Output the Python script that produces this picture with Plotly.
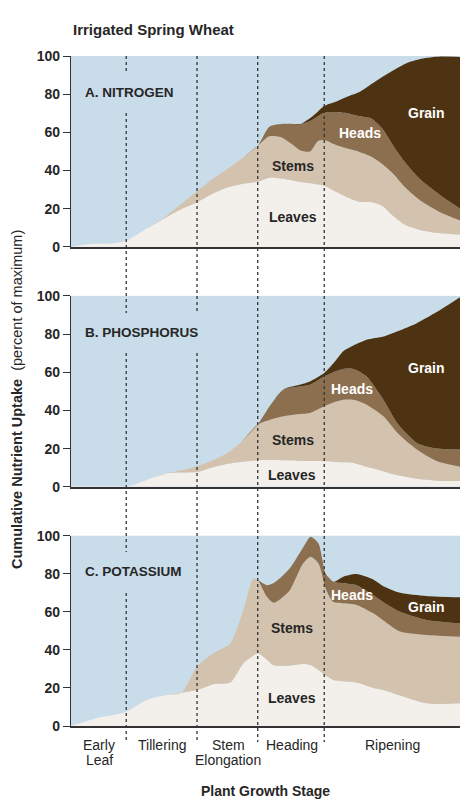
import plotly.graph_objects as go

# colours
BLUE = "#c9dcea"
C_LEAVES = "#f3f0eb"
C_STEMS = "#d3c3ae"
C_HEADS = "#8c6f4e"
C_GRAIN = "#4e3313"
INK = "#262626"

# --- data: cumulative tops of each layer (percent of maximum) ---
# A. Nitrogen
n_x = [0, 5, 10, 14.2, 19, 24, 28, 32.4, 36, 40, 44, 48, 51, 54, 57, 59, 61.5, 63.5, 65.1,
       68, 71, 74, 77, 80, 83, 86, 90, 95, 100]
n_leaves = [0, 1.6, 1.8, 3.3, 9, 15, 19.5, 23.4, 27.5, 31, 33, 34.2, 36.3, 35.8, 34.8, 34, 33.3,
            32.7, 32.1, 29, 26, 23.7, 23.5, 21.5, 16, 11.5, 8.8, 7.2, 6.5]
n_stems = [0, 1.6, 1.8, 3.3, 9, 15.5, 22, 29, 35, 40.5, 46.5, 53, 58, 57.5, 53.5, 50.5, 50,
           55.5, 56, 53.5, 51.5, 49.9, 47.5, 43.5, 38, 31, 24, 18, 13.8]
n_heads = [0, 1.6, 1.8, 3.3, 9, 15.5, 22, 29, 35, 40.5, 46.5, 53, 63, 64.4, 64.4, 64.4, 66,
           68.5, 70.3, 70.5, 70, 68.5, 67.5, 62, 52.5, 44, 35, 27, 20.2]
n_grain = [0, 1.6, 1.8, 3.3, 9, 15.5, 22, 29, 35, 40.5, 46.5, 53, 63, 64.4, 64.4, 64.4, 67.5,
           71, 73.8, 76, 78.7, 81, 85, 89, 92.7, 96, 98.5, 99.7, 99.5]

# B. Phosphorus
p_x = [0, 14.2, 20, 24.6, 28, 32.4, 36, 40, 43.5, 48, 51, 54.6, 58, 61.4, 65.1, 68, 70, 72.6,
       76, 80.3, 84, 88.9, 94, 100]
p_leaves = [0, 0, 4, 7, 7.5, 7.7, 10, 12, 13, 13.9, 14, 13.9, 13.7, 13.5, 13.4, 13, 12.8, 12.5,
            10.5, 8.2, 6, 4.2, 3.2, 3]
p_stems = [0, 0, 4, 7, 8.5, 10.8, 13.5, 17.5, 23, 32.6, 35, 36.9, 38, 38.7, 42.2, 44.5, 45.6,
           45.6, 43, 36.9, 28, 19.5, 13.5, 10.5]
p_heads = [0, 0, 4, 7, 8.5, 10.8, 13.5, 17.5, 23, 32.6, 42, 51, 52.3, 53.5, 57.8, 60.5, 61.7,
           61.7, 57.8, 45.6, 33, 23, 20, 19.5]
p_grain = [0, 0, 4, 7, 8.5, 10.8, 13.5, 17.5, 23, 32.6, 42, 51, 53, 55.2, 59.6, 66, 71, 74,
           77, 78.7, 81.5, 85.7, 91.5, 99.3]

# C. Potassium
k_x = [0, 4, 7.5, 10.9, 14.2, 19.5, 24.6, 28.4, 32.4, 36.6, 40.9, 44.3, 46.9, 48, 50.3, 52,
       53.7, 56.3, 59.7, 61.6, 63.6, 65.5, 67.4, 70, 73.4, 77.7, 80.3, 84.6, 91.4, 100]
k_leaves = [0, 2.5, 4.6, 5.8, 7.5, 13.7, 16.3, 17.5, 18.9, 22, 22.8, 32.9, 37, 38.2, 35, 32,
            31.5, 31.8, 32.6, 32, 29.4, 26.5, 24.2, 23.5, 22.8, 20, 18.9, 16, 11.9, 11.9]
k_stems = [0, 2.5, 4.6, 5.8, 7.5, 13.7, 16.3, 17.5, 31.2, 38.2, 43.4, 61, 77.6, 76.7, 68, 64.8,
           66.5, 71.5, 85.5, 89, 85.5, 72, 65.3, 64.5, 63.6, 59.2, 55.5, 49.6, 47.8, 46.9]
k_heads = [0, 2.5, 4.6, 5.8, 7.5, 13.7, 16.3, 17.5, 31.2, 38.2, 43.4, 61, 77.6, 76.7, 74, 75,
           77.6, 83, 94, 99.5, 96, 80, 75.8, 75, 74, 68.8, 65, 60, 55.7, 53.9]
k_grain = [0, 2.5, 4.6, 5.8, 7.5, 13.7, 16.3, 17.5, 31.2, 38.2, 43.4, 61, 77.6, 76.7, 74, 75,
           77.6, 83, 94, 99.5, 96, 80, 75.8, 78.5, 79.9, 77, 73.5, 70, 68.3, 67.6]

panels = [
    ("A. NITROGEN", n_x, [n_leaves, n_stems, n_heads, n_grain]),
    ("B. PHOSPHORUS", p_x, [p_leaves, p_stems, p_heads, p_grain]),
    ("C. POTASSIUM", k_x, [k_leaves, k_stems, k_heads, k_grain]),
]
layer_names = ["Leaves", "Stems", "Heads", "Grain"]
layer_colors = [C_LEAVES, C_STEMS, C_HEADS, C_GRAIN]

# label positions (x, y in data units) per panel: Leaves, Stems, Heads, Grain
label_pos = [
    [(57.1, 15.7), (57.1, 42.4), (74.3, 59.7), (91.3, 70.2)],
    [(56.8, 6.3), (57.1, 24.6), (72.2, 51.3), (91.3, 62.3)],
    [(56.8, 14.7), (56.8, 51.6), (72.2, 68.9), (91.3, 62.6)],
]
label_colors = [INK, INK, "white", "white"]

stage_bounds = [14.2, 32.4, 48, 65.1]
stage_line1 = ["Early", "Tillering", "Stem", "Heading", "Ripening"]
stage_line2 = ["Leaf", "", "Elongation", "", ""]
stage_centers = [7.2, 23.4, 40.4, 56.8, 82.6]

domains = [[0.715, 1.0], [0.357, 0.642], [0.0, 0.284]]

fig = go.Figure()
for i, (name, xs, layers) in enumerate(panels):
    ax = "" if i == 0 else str(i + 1)
    for j, ys in enumerate(layers):
        fig.add_trace(go.Scatter(
            x=xs, y=ys, xaxis="x" + ax, yaxis="y" + ax,
            mode="lines", line=dict(width=0, shape="spline", smoothing=0.7),
            fill="tozeroy" if j == 0 else "tonexty", fillcolor=layer_colors[j],
            hoverinfo="skip", showlegend=False))
    for j, (lx, ly) in enumerate(label_pos[i]):
        fig.add_annotation(x=lx, y=ly, xref="x" + ax, yref="y" + ax, text=layer_names[j],
                           showarrow=False,
                           font=dict(family="Liberation Sans", size=14, weight="bold",
                                     color=label_colors[j]))
    fig.add_annotation(x=3.1, y=81, xref="x" + ax, yref="y" + ax, text=name, showarrow=False,
                       xanchor="left",
                       font=dict(family="Liberation Sans", size=13.5, weight="bold", color=INK))

    fig.layout["xaxis" + ax] = dict(domain=[0, 1], anchor="y" + ax, range=[0, 100],
                                    showticklabels=False, showgrid=False, zeroline=False,
                                    showline=True, linecolor="#333", linewidth=1.5, ticks="")
    fig.layout["yaxis" + ax] = dict(domain=domains[i], anchor="x" + ax, range=[0, 100],
                                    tickvals=[0, 20, 40, 60, 80, 100], ticks="outside",
                                    ticklen=7, tickcolor="#333", showline=True,
                                    linecolor="#333", linewidth=1.2, showgrid=False,
                                    zeroline=False,
                                    tickfont=dict(family="Liberation Sans", size=14,
                                                  weight="bold", color=INK))

# dotted stage separators, broken where the panel names sit (page pixel rows -> paper)
def paper_y(py):
    return (726 - py) / 670

segments = [
    [(56, 71), (113, 313), (353, 552), (593, 742)],
    [(56, 313), (353, 742)],
    [(56, 742)],
    [(56, 742)],
]
for bx, segs in zip(stage_bounds, segments):
    for top, bot in segs:
        fig.add_shape(type="line", xref="x3", yref="paper", x0=bx, x1=bx,
                      y0=paper_y(top), y1=paper_y(bot), layer="above",
                      line=dict(color="#333", width=1.3, dash="dot"))

for sx, s1, s2 in zip(stage_centers, stage_line1, stage_line2):
    for txt, py in ((s1, 745), (s2, 760)):
        if txt:
            fig.add_annotation(x=sx, y=paper_y(py), xref="x3", yref="paper", text=txt,
                               showarrow=False, yanchor="middle",
                               font=dict(family="Liberation Sans", size=14, color=INK))

fig.add_annotation(x=0.5, y=paper_y(791), xref="paper", yref="paper", yanchor="middle",
                   text="Plant Growth Stage", showarrow=False,
                   font=dict(family="Liberation Sans", size=14, weight="bold", color=INK))
fig.add_annotation(x=(17 - 71) / 389, y=paper_y(400), xref="paper", yref="paper",
                   xanchor="center", yanchor="middle",
                   text="<b>Cumulative Nutrient Uptake</b>\u00a0\u00a0(percent of maximum)",
                   textangle=-90, showarrow=False,
                   font=dict(family="Liberation Sans", size=14.5, color=INK))
fig.add_annotation(x=0, y=paper_y(30), xref="paper", yref="paper", xanchor="left",
                   yanchor="middle",
                   text="Irrigated Spring Wheat", showarrow=False,
                   font=dict(family="Liberation Sans", size=15, weight="bold", color=INK))

# the page body adds an 8 px offset, so the figure is 8 px smaller and shifted
fig.update_layout(width=468, height=799, margin=dict(l=63, r=16, t=48, b=81),
                  plot_bgcolor=BLUE, paper_bgcolor="white")

fig.write_html("out.html")
